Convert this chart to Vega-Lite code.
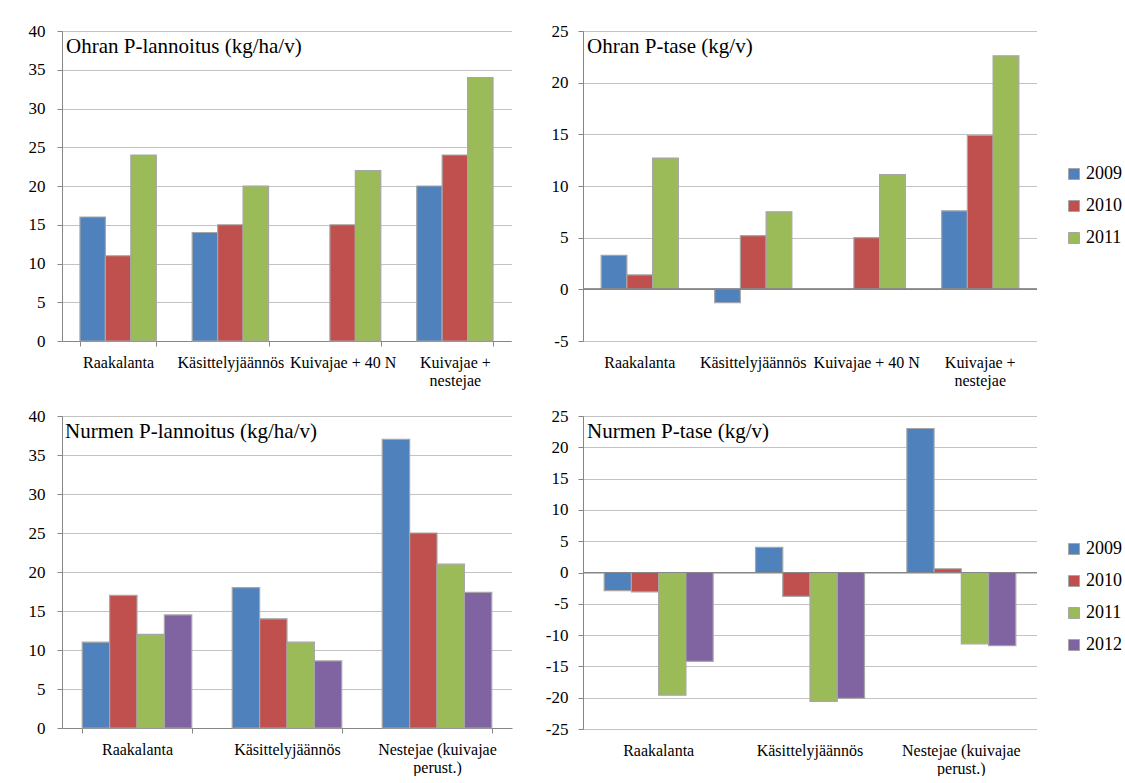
{
  "$schema": "https://vega.github.io/schema/vega-lite/v6.json",
  "padding": {"left": 21, "top": 22, "right": 0, "bottom": 0},
  "background": "white",
  "datasets": {
    "ohran_lannoitus": [
      {"category": "Raakalanta", "year": "2009", "value": 16},
      {"category": "Raakalanta", "year": "2010", "value": 11},
      {"category": "Raakalanta", "year": "2011", "value": 24},
      {"category": "Käsittelyjäännös", "year": "2009", "value": 14},
      {"category": "Käsittelyjäännös", "year": "2010", "value": 15},
      {"category": "Käsittelyjäännös", "year": "2011", "value": 20},
      {"category": "Kuivajae + 40 N", "year": "2010", "value": 15},
      {"category": "Kuivajae + 40 N", "year": "2011", "value": 22},
      {"category": "Kuivajae + nestejae", "year": "2009", "value": 20},
      {"category": "Kuivajae + nestejae", "year": "2010", "value": 24},
      {"category": "Kuivajae + nestejae", "year": "2011", "value": 34}
    ],
    "ohran_tase": [
      {"category": "Raakalanta", "year": "2009", "value": 3.3},
      {"category": "Raakalanta", "year": "2010", "value": 1.4},
      {"category": "Raakalanta", "year": "2011", "value": 12.7},
      {"category": "Käsittelyjäännös", "year": "2009", "value": -1.3},
      {"category": "Käsittelyjäännös", "year": "2010", "value": 5.2},
      {"category": "Käsittelyjäännös", "year": "2011", "value": 7.5},
      {"category": "Kuivajae + 40 N", "year": "2010", "value": 5.0},
      {"category": "Kuivajae + 40 N", "year": "2011", "value": 11.1},
      {"category": "Kuivajae + nestejae", "year": "2009", "value": 7.6},
      {"category": "Kuivajae + nestejae", "year": "2010", "value": 14.9},
      {"category": "Kuivajae + nestejae", "year": "2011", "value": 22.6}
    ],
    "nurmen_lannoitus": [
      {"category": "Raakalanta", "year": "2009", "value": 11},
      {"category": "Raakalanta", "year": "2010", "value": 17},
      {"category": "Raakalanta", "year": "2011", "value": 12},
      {"category": "Raakalanta", "year": "2012", "value": 14.5},
      {"category": "Käsittelyjäännös", "year": "2009", "value": 18},
      {"category": "Käsittelyjäännös", "year": "2010", "value": 14},
      {"category": "Käsittelyjäännös", "year": "2011", "value": 11},
      {"category": "Käsittelyjäännös", "year": "2012", "value": 8.6},
      {"category": "Nestejae (kuivajae perust.)", "year": "2009", "value": 37},
      {"category": "Nestejae (kuivajae perust.)", "year": "2010", "value": 25},
      {"category": "Nestejae (kuivajae perust.)", "year": "2011", "value": 21},
      {"category": "Nestejae (kuivajae perust.)", "year": "2012", "value": 17.4}
    ],
    "nurmen_tase": [
      {"category": "Raakalanta", "year": "2009", "value": -2.9},
      {"category": "Raakalanta", "year": "2010", "value": -3.1},
      {"category": "Raakalanta", "year": "2011", "value": -19.6},
      {"category": "Raakalanta", "year": "2012", "value": -14.2},
      {"category": "Käsittelyjäännös", "year": "2009", "value": 4.0},
      {"category": "Käsittelyjäännös", "year": "2010", "value": -3.8},
      {"category": "Käsittelyjäännös", "year": "2011", "value": -20.6},
      {"category": "Käsittelyjäännös", "year": "2012", "value": -20.1},
      {"category": "Nestejae (kuivajae perust.)", "year": "2009", "value": 23.0},
      {"category": "Nestejae (kuivajae perust.)", "year": "2010", "value": 0.6},
      {"category": "Nestejae (kuivajae perust.)", "year": "2011", "value": -11.4},
      {"category": "Nestejae (kuivajae perust.)", "year": "2012", "value": -11.7}
    ]
  },
  "columns": 2,
  "align": "none",
  "spacing": {"row": 19, "column": 33},
  "resolve": {"scale": {"color": "independent", "xOffset": "independent", "x": "independent", "y": "independent"}},
  "concat": [
    {
      "width": 449,
      "height": 310,
      "title": {"text": "Ohran P-lannoitus (kg/ha/v)"},
      "data": {"name": "ohran_lannoitus"},
      "mark": {"type": "bar", "stroke": "#A6A6A6", "strokeWidth": 1.2},
      "encoding": {
        "x": {"field": "category", "type": "nominal", "sort": null,
          "scale": {"paddingInner": 0.32, "paddingOuter": 0.16},
          "axis": {"title": null, "labelAngle": 0, "tickBand": "extent", "tickSize": 5, "labelPadding": 8,
            "labelOverlap": false, "labelFont": "Liberation Serif",
            "labelExpr": "datum.label == 'Kuivajae + nestejae' ? ['Kuivajae +', 'nestejae'] : datum.label"}},
        "xOffset": {"field": "year", "type": "nominal", "scale": {"domain": ["2009", "2010", "2011"]}},
        "y": {"field": "value", "type": "quantitative",
          "scale": {"domain": [0, 40], "nice": false},
          "axis": {"title": null, "values": [0, 5, 10, 15, 20, 25, 30, 35, 40], "tickCount": 20, "labelPadding": 12, "minExtent": 36,
            "labelOverlap": false, "labelFont": "Liberation Serif"}},
        "color": {"field": "year", "type": "nominal",
          "scale": {"domain": ["2009", "2010", "2011"], "range": ["#4F81BD", "#C0504D", "#9BBB59"]},
          "legend": null}
      }
    },
    {
      "width": 454,
      "height": 310,
      "title": {"text": "Ohran P-tase (kg/v)"},
      "data": {"name": "ohran_tase"},
      "layer": [
        {
          "mark": {"type": "bar", "stroke": "#A6A6A6", "strokeWidth": 1.2},
          "encoding": {
            "x": {"field": "category", "type": "nominal", "sort": null,
              "scale": {"paddingInner": 0.32, "paddingOuter": 0.16},
              "axis": {"title": null, "labelAngle": 0, "domain": false, "ticks": false, "labelPadding": 13,
                "labelOverlap": false, "labelFont": "Liberation Serif",
                "labelExpr": "datum.label == 'Kuivajae + nestejae' ? ['Kuivajae +', 'nestejae'] : datum.label"}},
            "xOffset": {"field": "year", "type": "nominal", "scale": {"domain": ["2009", "2010", "2011"]}},
            "y": {"field": "value", "type": "quantitative",
              "scale": {"domain": [-5, 25], "nice": false},
              "axis": {"title": null, "values": [-5, 0, 5, 10, 15, 20, 25], "tickCount": 20, "labelPadding": 10, "minExtent": 38,
                "labelOverlap": false, "labelFont": "Liberation Serif",
                "labelExpr": "replace(datum.label, '\u2212', '-')"}},
            "color": {"field": "year", "type": "nominal",
              "scale": {"domain": ["2009", "2010", "2011"], "range": ["#4F81BD", "#C0504D", "#9BBB59"]},
              "legend": {"title": null, "orient": "none", "legendX": 482, "legendY": 134, "symbolType": "square",
                "symbolSize": 121, "symbolStrokeColor": "#A6A6A6", "symbolStrokeWidth": 1, "labelFontSize": 18,
                "labelFont": "Liberation Serif", "labelOffset": 3, "rowPadding": 14, "padding": 0}}
          }
        },
        {
          "mark": {"type": "rule", "color": "#868686", "strokeWidth": 1},
          "encoding": {"y": {"datum": 0}}
        }
      ]
    },
    {
      "width": 450,
      "height": 312,
      "title": {"text": "Nurmen P-lannoitus (kg/ha/v)", "dx": 3},
      "data": {"name": "nurmen_lannoitus"},
      "mark": {"type": "bar", "stroke": "#A6A6A6", "strokeWidth": 1.2},
      "encoding": {
        "x": {"field": "category", "type": "nominal", "sort": null,
          "scale": {"paddingInner": 0.27, "paddingOuter": 0.135},
          "axis": {"title": null, "labelAngle": 0, "tickBand": "extent", "tickSize": 5, "labelPadding": 8,
            "labelOverlap": false, "labelFont": "Liberation Serif",
            "labelExpr": "datum.label == 'Nestejae (kuivajae perust.)' ? ['Nestejae (kuivajae', 'perust.)'] : datum.label"}},
        "xOffset": {"field": "year", "type": "nominal", "scale": {"domain": ["2009", "2010", "2011", "2012"]}},
        "y": {"field": "value", "type": "quantitative",
          "scale": {"domain": [0, 40], "nice": false},
          "axis": {"title": null, "values": [0, 5, 10, 15, 20, 25, 30, 35, 40], "tickCount": 20, "labelPadding": 12, "minExtent": 41,
            "labelOverlap": false, "labelFont": "Liberation Serif"}},
        "color": {"field": "year", "type": "nominal",
          "scale": {"domain": ["2009", "2010", "2011", "2012"], "range": ["#4F81BD", "#C0504D", "#9BBB59", "#8064A2"]},
          "legend": null}
      }
    },
    {
      "width": 454,
      "height": 313,
      "title": {"text": "Nurmen P-tase (kg/v)"},
      "data": {"name": "nurmen_tase"},
      "layer": [
        {
          "mark": {"type": "bar", "stroke": "#A6A6A6", "strokeWidth": 1.2},
          "encoding": {
            "x": {"field": "category", "type": "nominal", "sort": null,
              "scale": {"paddingInner": 0.28, "paddingOuter": 0.14},
              "axis": {"title": null, "labelAngle": 0, "domain": false, "ticks": false, "labelPadding": 13,
                "labelOverlap": false, "labelFont": "Liberation Serif",
                "labelExpr": "datum.label == 'Nestejae (kuivajae perust.)' ? ['Nestejae (kuivajae', 'perust.)'] : datum.label"}},
            "xOffset": {"field": "year", "type": "nominal", "scale": {"domain": ["2009", "2010", "2011", "2012"]}},
            "y": {"field": "value", "type": "quantitative",
              "scale": {"domain": [-25, 25], "nice": false},
              "axis": {"title": null, "values": [-25, -20, -15, -10, -5, 0, 5, 10, 15, 20, 25], "tickCount": 20, "labelPadding": 10, "minExtent": 38,
                "labelOverlap": false, "labelFont": "Liberation Serif",
                "labelExpr": "replace(datum.label, '\u2212', '-')"}},
            "color": {"field": "year", "type": "nominal",
              "scale": {"domain": ["2009", "2010", "2011", "2012"], "range": ["#4F81BD", "#C0504D", "#9BBB59", "#8064A2"]},
              "legend": {"title": null, "orient": "none", "legendX": 482, "legendY": 124, "symbolType": "square",
                "symbolSize": 121, "symbolStrokeColor": "#A6A6A6", "symbolStrokeWidth": 1, "labelFontSize": 18,
                "labelFont": "Liberation Serif", "labelOffset": 3, "rowPadding": 14, "padding": 0}}
          }
        },
        {
          "mark": {"type": "rule", "color": "#868686", "strokeWidth": 1},
          "encoding": {"y": {"datum": 0}}
        }
      ]
    }
  ],
  "config": {
    "font": "Liberation Serif",
    "view": {"stroke": null},
    "axis": {
      "labelFont": "Liberation Serif",
      "labelColor": "#000000",
      "domainColor": "#868686",
      "tickColor": "#868686",
      "gridColor": "#868686",
      "gridDash": [1, 1],
      "gridWidth": 1,
      "tickSize": 5
    },
    "axisX": {"labelFontSize": 16, "labelLineHeight": 18, "grid": false},
    "axisY": {"labelFontSize": 17, "grid": true},
    "legend": {"labelFont": "Liberation Serif", "labelColor": "#000000"},
    "title": {
      "font": "Liberation Serif",
      "fontSize": 21,
      "fontWeight": "normal",
      "color": "#000000",
      "anchor": "start",
      "frame": "group",
      "orient": "top",
      "offset": -35,
      "dx": 4
    }
  }
}
